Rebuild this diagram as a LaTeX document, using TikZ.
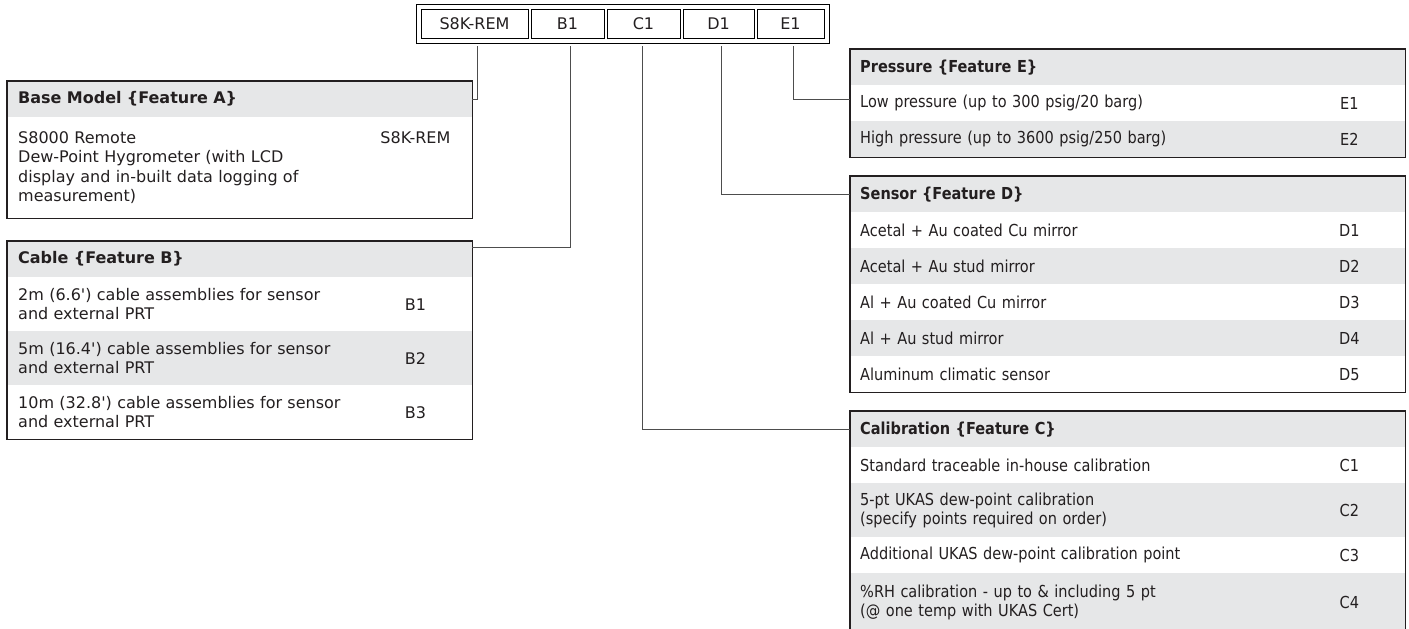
\documentclass[tikz,border=0pt]{standalone}
\usepackage{fontspec}
\setmainfont{DejaVu Sans}
\newfontfamily\narrowsans[FakeStretch=0.88]{DejaVu Sans}
\usetikzlibrary{fit}
\definecolor{band}{HTML}{E6E7E8}
\definecolor{ink}{HTML}{231F20}
\definecolor{linegray}{HTML}{4D4D4D}
\newcommand{\lft}{\fontsize{16}{19.5}\selectfont}
\newcommand{\rgt}{\narrowsans\fontsize{16.5}{19}\selectfont}

\begin{document}
\begin{tikzpicture}[x=1pt,y=-1pt,text=ink,
  cell/.style={draw=black,line width=0.8pt,minimum height=29pt,inner sep=0pt,font=\lft},
  lrow/.style={anchor=north west,inner xsep=11pt,inner ysep=0pt,text width=443pt,align=left,minimum height=#1,font=\lft},
  rrow/.style={anchor=north west,inner xsep=10pt,inner ysep=0pt,text width=535pt,align=left,minimum height=#1,font=\rgt},
  boxframe/.style={draw=ink,line width=1.6pt,inner sep=0pt},
  lead/.style={draw=linegray,line width=1.2pt},
  codetag/.style={inner sep=0pt}]
\useasboundingbox (0,0) rectangle (1409,629);

% order code
\node[cell,minimum width=107pt] (cellA) at (474.5,23.5) {S8K-REM};
\node[cell,minimum width=73pt] (cellB) at (567.5,23.5) {B1};
\node[cell,minimum width=73pt] (cellC) at (643.5,23.5) {C1};
\node[cell,minimum width=71pt] (cellD) at (718.5,23.5) {D1};
\node[cell,minimum width=67pt] (cellE) at (790.5,23.5) {E1};
\node[draw=black,line width=0.8pt,inner sep=4.5pt,fit=(cellA)(cellE)] (code) {};

% base model
\node[lrow=36pt,fill=band,font=\lft\bfseries] (aH) at (7,81) {Base Model \{Feature A\}};
\node[lrow=101pt] (a1) at (7,117) {S8000 Remote\\Dew-Point Hygrometer (with LCD\\display and in-built data logging of\\measurement)};
\node[codetag,font=\lft] (a1c) at ([xshift=-57pt,yshift=-21pt]a1.north east) {S8K-REM};
\node[boxframe,fit=(aH)(a1)] (boxA) {};

% cable
\node[lrow=36pt,fill=band,font=\lft\bfseries] (bH) at (7,241) {Cable \{Feature B\}};
\node[lrow=54pt] (b1) at (7,277) {2m (6.6\textquotesingle) cable assemblies for sensor\\and external PRT};
\node[lrow=54pt,fill=band] (b2) at (7,331) {5m (16.4\textquotesingle) cable assemblies for sensor\\and external PRT};
\node[lrow=54pt] (b3) at (7,385) {10m (32.8\textquotesingle) cable assemblies for sensor\\and external PRT};
\node[codetag,font=\lft] (b1c) at ([xshift=-57pt]b1.east) {B1};
\node[codetag,font=\lft] (b2c) at ([xshift=-57pt]b2.east) {B2};
\node[codetag,font=\lft] (b3c) at ([xshift=-57pt]b3.east) {B3};
\node[boxframe,fit=(bH)(b3)] (boxB) {};

% pressure
\node[rrow=36pt,fill=band,font=\rgt\bfseries] (eH) at (850,49) {Pressure \{Feature E\}};
\node[rrow=36pt] (e1) at (850,85) {Low pressure (up to 300 psig/20 barg)};
\node[rrow=36pt,fill=band] (e2) at (850,121) {High pressure (up to 3600 psig/250 barg)};
\node[codetag,font=\rgt] (e1c) at ([xshift=-56pt]e1.east) {E1};
\node[codetag,font=\rgt] (e2c) at ([xshift=-56pt]e2.east) {E2};
\node[boxframe,fit=(eH)(e2)] (boxE) {};

% sensor
\node[rrow=36pt,fill=band,font=\rgt\bfseries] (dH) at (850,176) {Sensor \{Feature D\}};
\node[rrow=36pt] (d1) at (850,212) {Acetal + Au coated Cu mirror};
\node[rrow=36pt,fill=band] (d2) at (850,248) {Acetal + Au stud mirror};
\node[rrow=36pt] (d3) at (850,284) {Al + Au coated Cu mirror};
\node[rrow=36pt,fill=band] (d4) at (850,320) {Al + Au stud mirror};
\node[rrow=36pt] (d5) at (850,356) {Aluminum climatic sensor};
\node[codetag,font=\rgt] (d1c) at ([xshift=-56pt]d1.east) {D1};
\node[codetag,font=\rgt] (d2c) at ([xshift=-56pt]d2.east) {D2};
\node[codetag,font=\rgt] (d3c) at ([xshift=-56pt]d3.east) {D3};
\node[codetag,font=\rgt] (d4c) at ([xshift=-56pt]d4.east) {D4};
\node[codetag,font=\rgt] (d5c) at ([xshift=-56pt]d5.east) {D5};
\node[boxframe,fit=(dH)(d5)] (boxD) {};

% calibration
\node[rrow=36pt,fill=band,font=\rgt\bfseries] (cH) at (850,411) {Calibration \{Feature C\}};
\node[rrow=36pt] (c1) at (850,447) {Standard traceable in-house calibration};
\node[rrow=54pt,fill=band] (c2) at (850,483) {5-pt UKAS dew-point calibration\\(specify points required on order)};
\node[rrow=36pt] (c3) at (850,537) {Additional UKAS dew-point calibration point};
\node[rrow=58pt,fill=band] (c4) at (850,573) {\%RH calibration - up to \& including 5 pt\\(@ one temp with UKAS Cert)};
\node[codetag,font=\rgt] (c1c) at ([xshift=-56pt]c1.east) {C1};
\node[codetag,font=\rgt] (c2c) at ([xshift=-56pt]c2.east) {C2};
\node[codetag,font=\rgt] (c3c) at ([xshift=-56pt]c3.east) {C3};
\node[codetag,font=\rgt] (c4c) at ([xshift=-56pt]c4.east) {C4};
\node[boxframe,fit=(cH)(c4)] (boxC) {};

% leads from the code
\coordinate (ta) at (cellA.south |- code.south);
\coordinate (tb) at (cellB.south |- code.south);
\coordinate (tc) at (cellC.south |- code.south);
\coordinate (td) at (cellD.south |- code.south);
\coordinate (te) at (cellE.south |- code.south);
\draw[lead] ([shift={(3pt,-3pt)}]ta) |- (aH.east);
\draw[lead] ([shift={(3pt,-3pt)}]tb) |- ([yshift=12pt]bH.east);
\draw[lead] ([shift={(-1pt,-3pt)}]tc) |- (cH.west);
\draw[lead] ([shift={(3pt,-3pt)}]td) |- (dH.west);
\draw[lead] ([shift={(3pt,-3pt)}]te) |- ([yshift=4pt]e1.west);
\end{tikzpicture}
\end{document}
